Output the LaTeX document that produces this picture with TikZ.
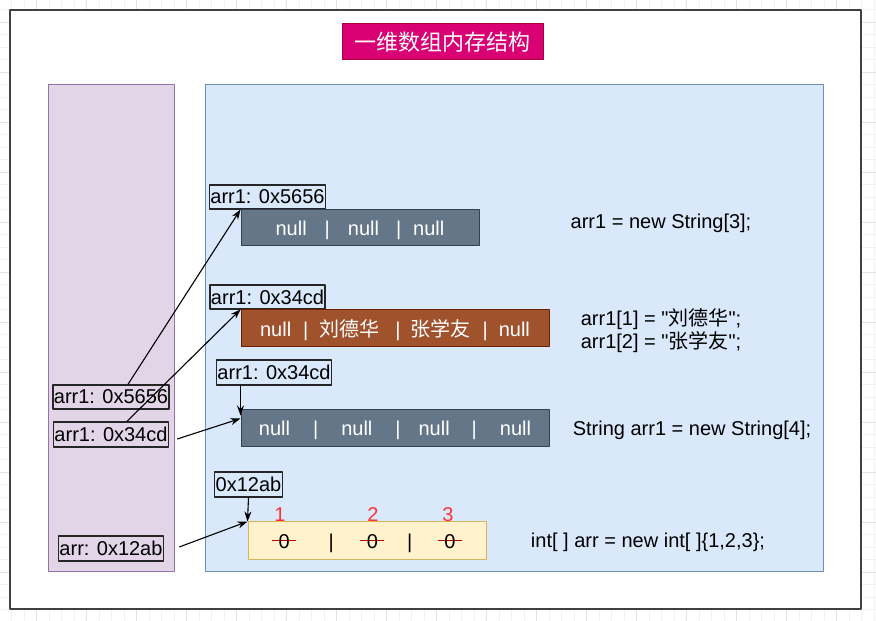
\documentclass[tikz,border=0pt]{standalone}
\usepackage{fontspec}
\setmainfont{Liberation Sans}[Ligatures=TeXOff]
\newfontfamily\cjk{Noto Sans CJK SC}
\usetikzlibrary{arrows.meta}
\definecolor{titlefill}{HTML}{D80073}
\definecolor{titleline}{HTML}{A50040}
\definecolor{stackfill}{HTML}{E1D5E7}
\definecolor{stackline}{HTML}{9673A6}
\definecolor{heapfill}{HTML}{DAE8FC}
\definecolor{heapline}{HTML}{6C8EBF}
\definecolor{greyfill}{HTML}{647687}
\definecolor{greyline}{HTML}{314354}
\definecolor{brownfill}{HTML}{A0522D}
\definecolor{brownline}{HTML}{6D1F00}
\definecolor{yellowfill}{HTML}{FFF2CC}
\definecolor{yellowline}{HTML}{D6B656}
\definecolor{idxred}{HTML}{FF3333}
\definecolor{strikered}{HTML}{C00000}
\newcommand{\strikezero}{\rlap{\hspace{-6.5bp}\textcolor{strikered}{\rule[0.36em]{24bp}{1bp}}}0}
\begin{document}
\begin{tikzpicture}[>={Stealth[length=10bp,width=7bp]},line join=bevel,
  every node/.style={font=\fontsize{20bp}{23bp}\selectfont},
  gridminor/.style={draw=black!5,line width=0.6bp},
  gridmajor/.style={draw=black!11,line width=0.6bp},
  titlebox/.style={draw=titleline,fill=titlefill,text=white,line width=1bp,minimum width=201bp,minimum height=36bp,inner sep=0bp,font=\cjk\fontsize{22bp}{26bp}\selectfont},
  stackarea/.style={draw=stackline,fill=stackfill,line width=1bp,minimum width=126bp,minimum height=487bp,inner sep=0bp},
  heaparea/.style={draw=heapline,fill=heapfill,line width=1bp,minimum width=618bp,minimum height=487bp,inner sep=0bp},
  addrbox/.style={draw=black!85,line width=1.4bp,inner xsep=1bp,inner ysep=0bp,minimum height=24bp},
  arraybox/.style={line width=1bp,inner sep=0bp,minimum height=37bp,text depth=0bp,text=white},
  codetext/.style={inner sep=0bp},
  idxnum/.style={text=idxred,inner sep=0bp},
]
\useasboundingbox (0,0) rectangle (876bp,621bp);
%% background grid
\foreach \gx in {-0.8,11.7,...,876} \draw [gridminor] (\gx bp,0) -- (\gx bp,621bp);
\foreach \gy in {-1.3,11.2,...,621} \draw [gridminor] (0,\gy bp) -- (876bp,\gy bp);
\foreach \gx in {36.7,86.7,...,876} \draw [gridmajor] (\gx bp,0) -- (\gx bp,621bp);
\foreach \gy in {48.7,98.7,...,621} \draw [gridmajor] (0,\gy bp) -- (876bp,\gy bp);
\draw [fill=white,draw=black!75,line width=1.5bp] (10bp,12bp) rectangle (861bp,611bp);
%%
\node (node_title) at (442.5bp,579.0bp) [titlebox] {一维数组内存结构};
\node (node_stack) at (111.0bp,292.5bp) [stackarea] {};
\node (node_heap) at (514.0bp,292.5bp) [heaparea] {};
%
\node (node_addr1) at (267.5bp,424.0bp) [addrbox] {arr1: 0x5656};
  \node (node_str3) at (360.0bp,393.0bp) [arraybox,fill=greyfill,draw=greyline,minimum width=238bp,minimum height=36bp] {null\hspace{18bp}|\hspace{18bp}null\hspace{17bp}|\hspace{12bp}null\hspace{7bp}};
\node (node_addr2) at (267.5bp,324.0bp) [addrbox] {arr1: 0x34cd};
  \node (node_strb) at (395.0bp,292.5bp) [arraybox,fill=brownfill,draw=brownline,minimum width=308bp] {null\hspace{12bp}|\hspace{11bp}{\cjk 刘德华}\hspace{16bp}|\hspace{10bp}{\cjk 张学友}\hspace{12bp}|\hspace{11bp}null};
\node (node_addr3) at (274.0bp,248.5bp) [addrbox,minimum height=25bp] {arr1: 0x34cd};
  \node (node_str4) at (395.0bp,192.5bp) [arraybox,fill=greyfill,draw=greyline,minimum width=308bp] {null\hspace{23bp}|\hspace{23bp}null\hspace{23bp}|\hspace{18bp}null\hspace{22bp}|\hspace{23bp}null};
\node (node_addr4) at (248.5bp,136.5bp) [addrbox,minimum height=25bp] {0x12ab};
  \node (node_arri) at (367.0bp,80.0bp) [arraybox,fill=yellowfill,draw=yellowline,minimum width=238bp,minimum height=38bp,text=black] {\strikezero\hspace{39bp}|\hspace{33bp}\strikezero\hspace{29bp}|\hspace{32bp}\strikezero\hspace{2bp}};
  \node (node_idx1) at (280.0bp,106.0bp) [idxnum] {1};
  \node (node_idx2) at (373.0bp,106.0bp) [idxnum] {2};
  \node (node_idx3) at (448.0bp,106.0bp) [idxnum] {3};
%
\node (node_ref1) at (111.0bp,224.0bp) [addrbox] {arr1: 0x5656};
\node (node_ref2) at (111.0bp,186.5bp) [addrbox,minimum height=25bp] {arr1: 0x34cd};
\node (node_ref3) at (111.0bp,72.5bp) [addrbox,minimum height=25bp] {arr: 0x12ab};
%
\node (node_code1) at (661.0bp,398.0bp) [codetext] {arr1 = new String[3];};
\node (node_code2) at (661.0bp,290.5bp) [codetext,align=left] {arr1[1] = "{\cjk 刘德华}";\\arr1[2] = "{\cjk 张学友}";};
\node (node_code3) at (692.0bp,191.0bp) [codetext] {String arr1 = new String[4];};
\node (node_code4) at (648.0bp,79.0bp) [codetext] {int[ ] arr = new int[ ]\{1,2,3\};};
%
  \draw [black,->,line width=1.1bp] ([xshift=17bp]node_ref1.north) -- (node_str3.north west);
  \draw [black,->,line width=1.1bp] ([xshift=16bp]node_ref2.north) -- (node_strb.north west);
  \draw [black,->,line width=1.1bp] ([xshift=8bp,yshift=-4.5bp]node_ref2.east) -- ([yshift=-9bp]node_str4.north west);
  \draw [black,->,line width=1.1bp] (node_addr3.south -| node_str4.west) -- ([yshift=-6bp]node_str4.north west);
  \draw [black,->,line width=1.1bp] (node_addr4.south) -- (node_arri.north west);
  \draw [black,->,line width=1.1bp] ([xshift=15bp,yshift=1.5bp]node_ref3.east) -- (node_arri.north west);
%
\end{tikzpicture}
\end{document}
